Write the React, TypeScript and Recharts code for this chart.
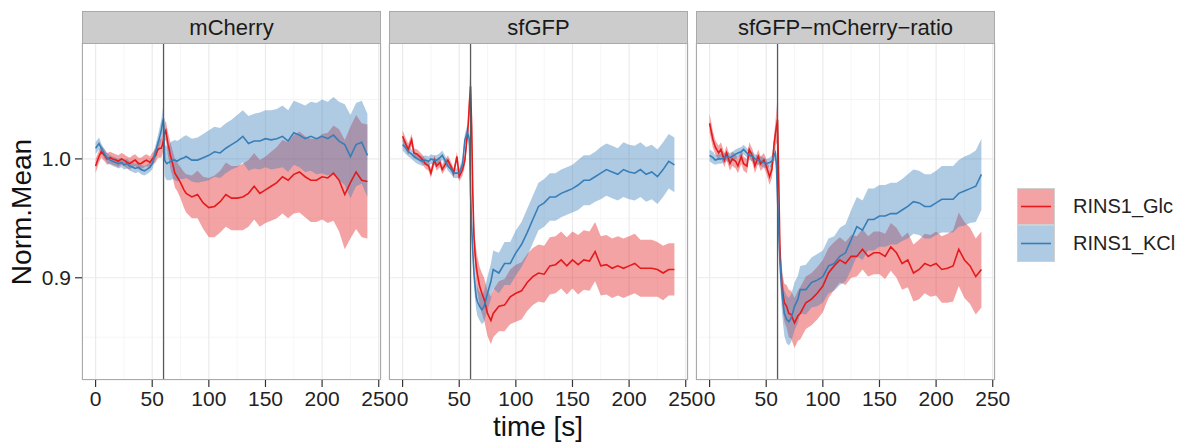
import React from 'react';
import { ComposedChart, Area, Line, XAxis, YAxis, CartesianGrid, ReferenceLine } from 'recharts';

const TIME = [
  0, 3, 5, 8, 10, 13, 15, 18, 20, 23, 25, 28, 30, 33, 35, 38, 40, 43, 45, 48, 50, 53, 55,
  57, 58, 59, 60, 61, 62, 63, 64, 65, 66, 68, 70, 72, 75, 78, 80,
  85, 90, 95, 100, 105, 110, 115, 120, 125, 130, 135, 140, 145, 150, 155, 160, 165, 170, 175, 180, 185, 190, 195, 200, 205, 210, 215, 220, 225, 230, 235, 240,
];

const SERIES_NAMES = ['RINS1_Glc', 'RINS1_KCl'];
const PANEL_TITLES = ['mCherry', 'sfGFP', 'sfGFP\u2212mCherry\u2212ratio'];
const X_TICKS = [0, 50, 100, 150, 200, 250];
const X_MINOR = [25, 75, 125, 175, 225];
const Y_TICKS = [0.9, 1.0];
const Y_MINOR = [0.85, 0.95, 1.05];
const STIMULUS_TIME = 60;

// mCherry
const mCherryKclMean = [
  1.009, 1.013, 1.009, 1.004, 1.001, 0.999, 0.998, 0.997, 0.996, 0.997, 0.995, 0.996, 0.994, 0.993, 0.992, 0.993, 0.991, 0.990, 0.991, 0.993, 0.996, 1.006, 1.013,
  1.020, 1.024, 1.030, 1.034, 0.999, 0.997, 0.996, 0.997, 0.997, 0.998, 0.999, 0.999, 0.998, 1.000, 1.001, 1.002,
  0.999, 0.999, 1.001, 1.003, 1.006, 1.005, 1.009, 1.012, 1.015, 1.019, 1.013, 1.015, 1.015, 1.017, 1.016, 1.017, 1.019, 1.015, 1.022, 1.020, 1.017, 1.019, 1.017, 1.019, 1.017, 1.020, 1.015, 1.012, 1.002, 1.012, 1.014, 1.003,
];
const mCherryKclSd = [
  0.005, 0.005, 0.004, 0.004, 0.004, 0.004, 0.004, 0.004, 0.004, 0.004, 0.004, 0.004, 0.004, 0.004, 0.004, 0.004, 0.004, 0.004, 0.004, 0.004, 0.005, 0.006, 0.007,
  0.008, 0.009, 0.010, 0.012, 0.013, 0.014, 0.014, 0.015, 0.015, 0.016, 0.016, 0.017, 0.017, 0.017, 0.018, 0.018,
  0.018, 0.019, 0.020, 0.021, 0.021, 0.021, 0.021, 0.021, 0.022, 0.022, 0.023, 0.023, 0.024, 0.024, 0.025, 0.025, 0.026, 0.026, 0.027, 0.027, 0.028, 0.029, 0.030, 0.031, 0.031, 0.032, 0.033, 0.034, 0.035, 0.035, 0.035, 0.035,
];
const mCherryGlcMean = [
  0.994, 1.002, 1.006, 1.003, 1.000, 1.001, 1.000, 0.999, 0.998, 1.000, 0.999, 0.997, 0.996, 0.998, 0.999, 0.996, 0.996, 0.998, 0.999, 0.997, 1.000, 1.003, 1.008,
  1.009, 1.009, 1.012, 1.016, 1.022, 1.024, 1.018, 1.012, 1.008, 1.003, 0.996, 0.988, 0.985, 0.980, 0.974, 0.971,
  0.968, 0.970, 0.963, 0.959, 0.960, 0.964, 0.970, 0.967, 0.967, 0.968, 0.971, 0.977, 0.971, 0.974, 0.977, 0.980, 0.985, 0.982, 0.987, 0.989, 0.985, 0.982, 0.982, 0.985, 0.984, 0.988, 0.982, 0.970, 0.980, 0.989, 0.982, 0.981,
];
const mCherryGlcSd = [
  0.006, 0.005, 0.005, 0.005, 0.005, 0.005, 0.005, 0.005, 0.005, 0.005, 0.005, 0.005, 0.005, 0.005, 0.005, 0.005, 0.005, 0.005, 0.005, 0.005, 0.005, 0.006, 0.007,
  0.008, 0.008, 0.008, 0.008, 0.008, 0.008, 0.009, 0.010, 0.010, 0.011, 0.011, 0.012, 0.012, 0.013, 0.015, 0.016,
  0.018, 0.020, 0.022, 0.025, 0.026, 0.026, 0.027, 0.027, 0.027, 0.028, 0.028, 0.028, 0.028, 0.028, 0.029, 0.030, 0.031, 0.032, 0.033, 0.034, 0.034, 0.035, 0.035, 0.036, 0.038, 0.040, 0.043, 0.046, 0.047, 0.048, 0.048, 0.048,
];

// sfGFP
const sfgfpKclMean = [
  1.012, 1.009, 1.006, 1.004, 1.002, 1.000, 0.999, 0.998, 0.999, 0.998, 1.000, 0.999, 0.999, 1.001, 1.003, 0.998, 0.994, 0.991, 0.988, 0.988, 0.988, 0.996, 1.016,
  1.022, 1.020, 1.016, 0.971, 0.943, 0.922, 0.904, 0.893, 0.884, 0.880, 0.876, 0.873, 0.876, 0.887, 0.897, 0.907,
  0.904, 0.912, 0.912, 0.921, 0.928, 0.938, 0.949, 0.960, 0.963, 0.968, 0.968, 0.971, 0.973, 0.975, 0.978, 0.982, 0.982, 0.985, 0.988, 0.991, 0.989, 0.987, 0.991, 0.989, 0.988, 0.991, 0.987, 0.989, 0.985, 0.991, 0.998, 0.995,
];
const sfgfpKclSd = [
  0.005, 0.005, 0.004, 0.004, 0.004, 0.004, 0.004, 0.004, 0.004, 0.004, 0.004, 0.004, 0.004, 0.004, 0.004, 0.004, 0.004, 0.004, 0.004, 0.004, 0.004, 0.005, 0.005,
  0.006, 0.006, 0.007, 0.008, 0.009, 0.010, 0.010, 0.011, 0.011, 0.012, 0.012, 0.012, 0.013, 0.014, 0.015, 0.016,
  0.017, 0.018, 0.018, 0.019, 0.019, 0.020, 0.020, 0.020, 0.020, 0.020, 0.020, 0.020, 0.020, 0.020, 0.021, 0.021, 0.021, 0.021, 0.022, 0.022, 0.022, 0.022, 0.023, 0.023, 0.023, 0.023, 0.023, 0.023, 0.023, 0.023, 0.023, 0.023,
];
const sfgfpGlcMean = [
  1.019, 1.012, 1.008, 1.016, 1.005, 1.004, 1.002, 0.999, 0.996, 0.994, 0.988, 0.999, 0.994, 0.997, 0.991, 0.996, 0.999, 0.993, 0.988, 1.002, 0.985, 0.991, 0.999,
  1.019, 1.030, 1.047, 1.061, 1.027, 0.971, 0.935, 0.920, 0.910, 0.903, 0.893, 0.887, 0.882, 0.870, 0.864, 0.870,
  0.876, 0.877, 0.884, 0.887, 0.889, 0.896, 0.901, 0.904, 0.903, 0.910, 0.911, 0.915, 0.910, 0.915, 0.911, 0.915, 0.914, 0.922, 0.910, 0.911, 0.908, 0.910, 0.908, 0.910, 0.912, 0.908, 0.908, 0.908, 0.907, 0.904, 0.907, 0.907,
];
const sfgfpGlcSd = [
  0.005, 0.005, 0.005, 0.005, 0.004, 0.004, 0.004, 0.004, 0.004, 0.004, 0.004, 0.004, 0.004, 0.004, 0.004, 0.004, 0.004, 0.004, 0.004, 0.004, 0.004, 0.005, 0.005,
  0.006, 0.008, 0.012, 0.020, 0.015, 0.011, 0.012, 0.013, 0.014, 0.015, 0.016, 0.017, 0.018, 0.019, 0.020, 0.020,
  0.021, 0.022, 0.023, 0.024, 0.024, 0.024, 0.024, 0.024, 0.024, 0.024, 0.024, 0.024, 0.024, 0.024, 0.025, 0.025, 0.025, 0.025, 0.025, 0.025, 0.025, 0.025, 0.025, 0.025, 0.025, 0.024, 0.024, 0.024, 0.023, 0.023, 0.022, 0.022,
];

// sfGFP-mCherry-ratio
const ratioKclMean = [
  1.003, 1.001, 0.999, 1.000, 1.000, 1.001, 1.002, 1.001, 1.002, 1.004, 1.005, 1.006, 1.008, 1.005, 1.003, 1.002, 1.000, 0.999, 0.998, 0.997, 0.996, 0.997, 0.998,
  1.003, 1.005, 0.995, 0.966, 0.940, 0.915, 0.900, 0.887, 0.878, 0.870, 0.865, 0.863, 0.866, 0.876, 0.882, 0.890,
  0.890, 0.896, 0.898, 0.901, 0.910, 0.912, 0.918, 0.921, 0.932, 0.943, 0.940, 0.949, 0.949, 0.952, 0.952, 0.954, 0.954, 0.957, 0.960, 0.964, 0.963, 0.960, 0.960, 0.963, 0.966, 0.966, 0.966, 0.971, 0.973, 0.975, 0.977, 0.987,
];
const ratioKclSd = [
  0.005, 0.005, 0.004, 0.004, 0.004, 0.004, 0.004, 0.004, 0.004, 0.004, 0.004, 0.004, 0.004, 0.004, 0.004, 0.004, 0.004, 0.004, 0.004, 0.004, 0.004, 0.004, 0.005,
  0.005, 0.006, 0.008, 0.010, 0.012, 0.014, 0.016, 0.017, 0.018, 0.019, 0.020, 0.020, 0.020, 0.020, 0.020, 0.020,
  0.021, 0.021, 0.022, 0.022, 0.023, 0.023, 0.024, 0.024, 0.025, 0.025, 0.025, 0.026, 0.026, 0.026, 0.026, 0.026, 0.026, 0.026, 0.027, 0.027, 0.027, 0.027, 0.027, 0.027, 0.028, 0.028, 0.028, 0.028, 0.029, 0.029, 0.030, 0.030,
];
const ratioGlcMean = [
  1.030, 1.016, 1.010, 1.005, 1.008, 0.999, 1.005, 0.996, 1.000, 0.998, 0.994, 1.002, 0.996, 0.994, 1.008, 1.002, 0.994, 1.002, 0.996, 0.999, 0.994, 0.985, 0.991,
  1.013, 1.020, 1.027, 1.033, 0.985, 0.929, 0.905, 0.893, 0.885, 0.879, 0.876, 0.870, 0.869, 0.862, 0.868, 0.870,
  0.879, 0.882, 0.887, 0.893, 0.904, 0.910, 0.915, 0.912, 0.918, 0.918, 0.924, 0.918, 0.921, 0.921, 0.918, 0.926, 0.921, 0.912, 0.915, 0.904, 0.907, 0.912, 0.910, 0.912, 0.907, 0.908, 0.910, 0.924, 0.915, 0.910, 0.901, 0.907,
];
const ratioGlcSd = [
  0.008, 0.007, 0.006, 0.006, 0.006, 0.006, 0.006, 0.006, 0.006, 0.006, 0.006, 0.006, 0.006, 0.006, 0.006, 0.006, 0.006, 0.006, 0.006, 0.006, 0.006, 0.007, 0.007,
  0.008, 0.010, 0.014, 0.020, 0.015, 0.012, 0.013, 0.014, 0.015, 0.016, 0.018, 0.020, 0.020, 0.021, 0.021, 0.022,
  0.022, 0.022, 0.022, 0.022, 0.021, 0.020, 0.019, 0.018, 0.018, 0.017, 0.017, 0.017, 0.018, 0.018, 0.019, 0.020, 0.021, 0.022, 0.023, 0.024, 0.025, 0.025, 0.026, 0.027, 0.028, 0.029, 0.030, 0.031, 0.032, 0.032, 0.032, 0.032,
];

const RED = '#E41A1C';
const BLUE = '#377EB8';
const FONT = '"Liberation Sans", Arial, Helvetica, sans-serif';

function buildRows(glcM: number[], glcS: number[], kclM: number[], kclS: number[]) {
  return TIME.map((t, i) => ({
    t,
    glc: glcM[i],
    glcBand: [glcM[i] - glcS[i], glcM[i] + glcS[i]],
    kcl: kclM[i],
    kclBand: [kclM[i] - kclS[i], kclM[i] + kclS[i]],
  }));
}

const PANEL_DATA = [
  buildRows(mCherryGlcMean, mCherryGlcSd, mCherryKclMean, mCherryKclSd),
  buildRows(sfgfpGlcMean, sfgfpGlcSd, sfgfpKclMean, sfgfpKclSd),
  buildRows(ratioGlcMean, ratioGlcSd, ratioKclMean, ratioKclSd),
];

const PANEL_LEFT = [82, 389, 696];
const PLOT_W = 299;
const PLOT_H = 337;
const PLOT_TOP = 43;
const STRIP_H = 32;
const SIDE = 22;

function Panel({ idx }: { idx: number }) {
  const showY = idx === 0;
  const yW = showY ? 82 : 0;
  const leftMargin = showY ? 0 : SIDE;
  const left = PANEL_LEFT[idx];
  return (
    <>
      <div
        style={{
          position: 'absolute',
          left,
          top: PLOT_TOP - STRIP_H,
          width: PLOT_W,
          height: STRIP_H + 1,
          boxSizing: 'border-box',
          background: '#CCCCCC',
          border: '1px solid #A9A9A9',
          fontFamily: FONT,
          fontSize: 22,
          color: '#1a1a1a',
          textAlign: 'center',
          lineHeight: `${STRIP_H - 1}px`,
        }}
      >
        {PANEL_TITLES[idx]}
      </div>
      <div style={{ position: 'absolute', left: left - yW - leftMargin, top: PLOT_TOP }}>
        <ComposedChart
          width={PLOT_W + yW + leftMargin + SIDE}
          height={PLOT_H + 50}
          data={PANEL_DATA[idx]}
          margin={{ top: 0, right: SIDE, bottom: 0, left: leftMargin }}
        >
          <CartesianGrid
            stroke="#F4F4F4"
            strokeWidth={0.8}
            verticalValues={X_MINOR}
            horizontalValues={Y_MINOR}
          />
          <CartesianGrid stroke="#EBEBEB" strokeWidth={1.2} />
          <XAxis
            type="number"
            dataKey="t"
            domain={[-12, 252]}
            allowDataOverflow
            ticks={X_TICKS}
            interval={0}
            height={50}
            axisLine={false}
            tickSize={7}
            tickMargin={4}
            tickLine={{ stroke: '#333333', strokeWidth: 1.2 }}
            tick={{ fontSize: 21, fill: '#222222', fontFamily: FONT }}
          />
          <YAxis
            type="number"
            domain={[0.814, 1.0975]}
            allowDataOverflow
            ticks={Y_TICKS}
            hide={!showY}
            width={yW}
            axisLine={false}
            tickSize={7}
            tickMargin={4}
            tickLine={{ stroke: '#333333', strokeWidth: 1.2 }}
            tick={{ fontSize: 21, fill: '#222222', fontFamily: FONT }}
            tickFormatter={(v: number) => v.toFixed(1)}
          />
          <Area
            type="linear"
            dataKey="glcBand"
            stroke="none"
            fill={RED}
            fillOpacity={0.4}
            isAnimationActive={false}
          />
          <Line type="linear" dataKey="glc" stroke={RED} strokeWidth={1.6} dot={false} isAnimationActive={false} />
          <Area
            type="linear"
            dataKey="kclBand"
            stroke="none"
            fill={BLUE}
            fillOpacity={0.4}
            isAnimationActive={false}
          />
          <Line type="linear" dataKey="kcl" stroke={BLUE} strokeWidth={1.6} dot={false} isAnimationActive={false} />
          <ReferenceLine x={STIMULUS_TIME} stroke="#5a5a5a" strokeWidth={1.3} />
        </ComposedChart>
      </div>
      <div
        style={{
          position: 'absolute',
          left,
          top: PLOT_TOP,
          width: PLOT_W,
          height: PLOT_H,
          boxSizing: 'border-box',
          border: '1px solid #A9A9A9',
          pointerEvents: 'none',
        }}
      />
    </>
  );
}

function Legend() {
  const colors = [RED, BLUE];
  return (
    <div style={{ position: 'absolute', left: 1017, top: 188 }}>
      {SERIES_NAMES.map((name, i) => (
        <div key={name} style={{ position: 'absolute', left: 0, top: i * 37, width: 170, height: 37 }}>
          <svg width={38} height={37} style={{ position: 'absolute', left: 0, top: 0 }}>
            <rect x={0.5} y={0.5} width={37} height={36} fill={colors[i]} fillOpacity={0.4} stroke="#D0D0D0" />
            <line x1={4} x2={34} y1={18.5} y2={18.5} stroke={colors[i]} strokeWidth={1.6} />
          </svg>
          <div
            style={{
              position: 'absolute',
              left: 56,
              top: 0,
              height: 37,
              lineHeight: '37px',
              fontFamily: FONT,
              fontSize: 20,
              color: '#222',
              whiteSpace: 'nowrap',
            }}
          >
            {name}
          </div>
        </div>
      ))}
    </div>
  );
}

export default function App() {
  return (
    <div style={{ position: 'absolute', left: 0, top: 0, width: 1184, height: 443, background: '#fff', overflow: 'hidden' }}>
      {[0, 1, 2].map((i) => (
        <Panel key={i} idx={i} />
      ))}
      <div
        style={{
          position: 'absolute',
          left: 338,
          width: 400,
          top: 410,
          textAlign: 'center',
          fontFamily: FONT,
          fontSize: 28,
          lineHeight: '34px',
          color: '#111',
        }}
      >
        time [s]
      </div>
      <div
        style={{
          position: 'absolute',
          left: 22,
          top: 212,
          transform: 'translate(-50%, -50%) rotate(-90deg)',
          fontFamily: FONT,
          fontSize: 28,
          lineHeight: '34px',
          color: '#111',
          whiteSpace: 'nowrap',
        }}
      >
        Norm.Mean
      </div>
      <Legend />
    </div>
  );
}
